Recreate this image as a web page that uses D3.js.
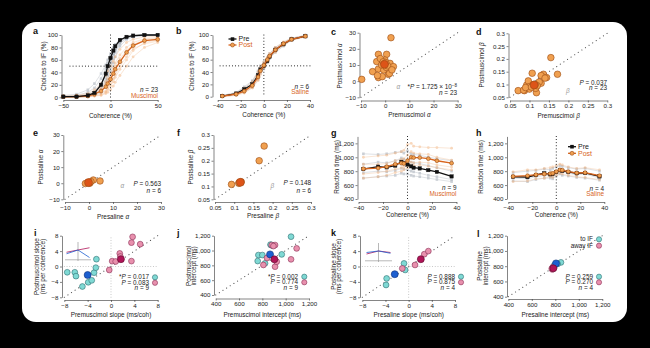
<!DOCTYPE html>
<html><head><meta charset="utf-8">
<script src="https://cdn.jsdelivr.net/npm/d3@7"></script>
<style>
html,body{margin:0;padding:0;background:#000;}
svg{display:block;font-family:"Liberation Sans",Arial,sans-serif;}
.axis path,.axis line{stroke:#333;stroke-width:0.6;fill:none;}
.axis text{font-size:6.2px;fill:#222;font-family:"Liberation Sans",Arial,sans-serif;}
.t{font-size:6.4px;fill:#222;}
.lab{font-size:9px;font-weight:bold;fill:#111;}
</style></head><body>
<script>
// ---------- Choice curves (a, b) ----------
const cohA = [-50,-36,-24,-17,-10,-5,-3,0,3,5,10,17,24,36,50];
const preA = [1,1,3,7,20,38,50,63,75,82,92,97,99,100,100];
const postA = [1,1,2,5,10,17,22,29,38,45,57,72,83,91,93];
const preA_sessions = [
  [2,3,8,15,30,45,55,66,75,80,90,96,98,100,100],
  [0,1,2,5,12,25,35,50,62,72,86,95,99,100,100],
  [3,5,12,22,38,52,60,70,80,85,93,97,99,100,100],
  [0,0,1,3,8,18,28,42,55,65,82,93,97,99,100],
  [1,2,5,10,22,35,45,58,70,76,88,95,98,99,100],
  [0,1,3,6,15,30,40,55,68,78,90,97,99,100,100]
];
const postA_sessions = [
  [0,0,1,2,4,8,12,18,25,32,45,60,75,88,92],
  [1,2,4,8,15,25,30,38,47,55,68,80,88,94,96],
  [0,1,2,3,6,10,15,22,30,36,50,65,78,86,90],
  [2,3,6,12,22,35,42,50,58,65,77,88,93,97,98],
  [0,0,1,2,3,6,8,12,18,24,35,50,65,80,88],
  [1,1,3,6,12,20,26,33,42,50,62,75,85,92,95]
];
const cohB = [-36,-24,-17,-10,-5,-3,0,3,5,10,17,24,36];
const preB = [1,5,12,20,35,44,50,58,65,76,85,93,98];
const postB = [1,4,9,18,32,42,51,60,66,76,86,93,98];
const preB_sessions = [
  [0,3,8,15,28,38,45,55,62,72,82,92,98],
  [2,7,16,26,42,50,56,63,70,80,88,95,99],
  [1,4,10,18,32,42,48,57,64,74,84,92,97],
  [0,6,14,24,40,48,52,60,67,78,87,94,100]
];
const postB_sessions = [
  [0,3,7,14,26,36,47,56,63,72,83,91,97],
  [2,6,14,24,40,48,56,64,70,80,89,95,99],
  [1,5,10,20,34,44,52,62,66,77,86,93,98],
  [0,2,6,15,28,40,48,58,64,74,85,92,98]
];

// ---------- Fit parameters (c–f) ----------
const preMusAlpha  = [2.4,-2.8,0.6,-3.5,-0.1,2.0,3.4,-5.2,-2.8,-0.6,1.3,1.8,-2.8,-1.2,-9.7,-1.5,0.5,-2.0,1.0,-0.8,2.8,0.2,-3.2];
const postMusAlpha = [26.9,16.6,16.6,12.1,13.1,11.0,9.0,5.9,7.5,6.9,4.2,4.8,2.2,2.8,1.1,10.0,8.5,14.0,9.5,12.0,7.0,11.5,3.5];
const musAlphaMean = [-0.3,10.4];
const preMusBeta  = [0.155,0.172,0.107,0.136,0.144,0.13,0.071,0.087,0.093,0.097,0.101,0.118,0.116,0.13,0.085,0.11,0.125,0.1,0.12,0.09,0.14,0.105,0.115];
const postMusBeta = [0.205,0.14,0.144,0.14,0.127,0.135,0.076,0.076,0.098,0.114,0.092,0.068,0.085,0.105,0.078,0.1,0.11,0.082,0.095,0.088,0.125,0.09,0.1];
const musBetaMean = [0.112,0.098];
const preSalAlpha  = [4.6,1.8,-0.3,-1.5,0.3,0.8];
const postSalAlpha = [1.4,2.0,0.4,-0.2,0.0,1.0];
const salAlphaMean = [-0.2,0.4];
const preSalBeta  = [0.178,0.165,0.093,0.113,0.118,0.112];
const postSalBeta = [0.257,0.2,0.108,0.115,0.118,0.112];
const salBetaMean = [0.116,0.116];

// ---------- Reaction times (g, h) ----------
const cohRT = [-36,-24,-17,-10,-5,-3,0,3,5,10,17,24,36];
const preG  = [830,865,855,880,935,915,895,870,850,840,815,790,725];
const postG = [835,845,865,900,915,910,950,1000,995,995,980,950,915];
const preG_sessions = [
  [1050,1040,1050,1070,1080,1060,1090,1050,1040,1030,1000,980,950],
  [780,800,790,810,840,830,820,800,790,770,740,720,680],
  [700,720,730,740,770,760,760,740,730,720,700,680,650],
  [900,930,920,950,990,970,960,930,920,910,880,850,800]
];
const postG_sessions = [
  [1000,1020,1030,1060,1080,1100,1180,1200,1160,1150,1140,1140,1130],
  [760,780,800,830,850,860,880,930,920,930,920,890,860],
  [900,900,910,950,970,980,1030,1080,1060,1050,1040,1000,960],
  [700,720,740,780,800,820,850,880,880,890,870,850,820]
];
const preH  = [720,715,745,770,755,760,790,815,805,790,770,775,725];
const postH = [725,735,750,760,765,770,795,820,815,795,775,780,735];
const preH_sessions = [
  [700,690,720,740,730,720,770,800,790,770,750,760,700],
  [780,800,810,830,820,840,860,880,870,850,830,840,800],
  [660,650,680,700,700,690,730,760,740,730,710,700,670]
];
const postH_sessions = [
  [710,720,730,740,740,750,780,810,800,780,760,770,720],
  [790,820,820,840,850,860,880,900,890,860,840,850,820],
  [650,660,690,700,720,710,740,770,760,740,720,710,680]
];

// ---------- RT regression (i–l) ----------
const musSlopeToPre   = [-7.5,-6.2,-6.0,-4.9,-3.9,-2.9,-2.6,-2.5,-3.3];
const musSlopeToPost  = [-1.5,-1.5,-2.5,-5.2,-4.1,-1.6,-0.3,1.9,-3.6];
const musSlopeToMean  = [-4.0,-2.2];
const musSlopeAwPre   = [3.7,3.5,5.0,1.5,0.2,-0.3,3.5,0.8,1.6];
const musSlopeAwPost  = [7.7,6.2,5.8,3.4,1.4,-0.9,1.4,1.3,2.6];
const musSlopeAwMean  = [1.7,1.9];
const musIntToPre  = [1046,874,889,766,800,966,760,823,870];
const musIntToPost = [1187,1074,1065,939,939,948,858,827,1080];
const musIntToMean = [866,948];
const musIntAwPre  = [1094,1046,909,880,809,909,923,840,895];
const musIntAwPost = [1029,881,1074,1074,805,782,849,900,1060];
const musIntAwMean = [903,881];
const salSlopeToPre  = [-3.8,-3.9,-0.8,-0.6];
const salSlopeToPost = [-3.1,-4.8,0.8,-0.9];
const salSlopeToMean = [-2.4,-2.0];
const salSlopeAwPre  = [1.1,2.7,3.4,-1.1];
const salSlopeAwPost = [0.4,3.2,4.0,-0.5];
const salSlopeAwMean = [2.1,1.9];
const salIntToPre  = [848,820,800,790];
const salIntToPost = [850,830,820,810];
const salIntToMean = [806,837];
const salIntAwPre  = [774,770,790,780];
const salIntAwPost = [758,770,780,790];
const salIntAwMean = [783,772];
// schematic inset: RT vs coherence around zero
const insetCoh = [-1,0,1];
const insetMusTo = [0.35,0.6,0.1];
const insetMusAw = [0.45,0.6,0.75];
const insetSalTo = [0.5,0.6,0.45];
const insetSalAw = [0.4,0.6,0.5];

// ---------- Colours ----------
const C = {
  black:"#111", orange:"#d8641c", orangeFill:"#f0a050", orangeStroke:"#9a4a12",
  meanOrange:"#dd5418", fadeGray:"#8c96a3", fadeOrange:"#f2b07a",
  cyan:"#7fd9d4", cyanStroke:"#2f6f72", blue:"#1d5fd0", blueStroke:"#0e2f78",
  pink:"#e890ad", pinkStroke:"#8a2f55", magenta:"#b01558", magentaStroke:"#5a0a2c"
};

const W = 650, H = 348;
const svg = d3.select("body").append("svg").attr("width", W).attr("height", H);
svg.append("rect").attr("width", W).attr("height", H).attr("fill", "#000");
svg.append("rect").attr("x", 22).attr("y", 22).attr("width", 605).attr("height", 300)
  .attr("rx", 14).attr("fill", "#fff");

const fmtPlain = d => String(d).replace("-", "\u2212");
const fmtComma = d3.format(",");

function panel(o) {
  const g = svg.append("g");
  const x = d3.scaleLinear().domain(o.xd).range(o.xr);
  const y = d3.scaleLinear().domain(o.yd).range(o.yr);
  g.append("g").attr("class", "axis").attr("transform", `translate(0,${o.ay})`)
    .call(d3.axisBottom(x).tickValues(o.xt).tickSize(2).tickSizeOuter(0).tickPadding(1.5).tickFormat(o.xf || fmtPlain));
  g.append("g").attr("class", "axis").attr("transform", `translate(${o.ax},0)`)
    .call(d3.axisLeft(y).tickValues(o.yt).tickSize(2).tickSizeOuter(0).tickPadding(1.5).tickFormat(o.yf || fmtPlain));
  g.append("text").attr("class", "lab").attr("x", o.lab[1]).attr("y", o.lab[2]).text(o.lab[0]);
  // x title
  const xt = g.append("text").attr("class", "t").attr("text-anchor", "middle")
    .attr("x", (o.xr[0] + o.xr[1]) / 2).attr("y", o.xtY);
  o.xtitle.forEach(p => xt.append("tspan").attr("font-style", p[1] ? "italic" : null).text(p[0]));
  // y title (one or two lines)
  o.ytitle.forEach((line, i) => {
    const t = g.append("text").attr("class", "t").attr("text-anchor", "middle")
      .attr("transform", `translate(${o.ytX[i]},${o.ytY}) rotate(-90)`).attr("dy", "0.35em");
    line.forEach(p => t.append("tspan").attr("font-style", p[1] ? "italic" : null).text(p[0]));
  });
  return { g, x, y };
}

function dotted(g, x1, y1, x2, y2, color, dash, w) {
  g.append("line").attr("x1", x1).attr("y1", y1).attr("x2", x2).attr("y2", y2)
    .attr("stroke", color).attr("stroke-width", w || 0.9).attr("stroke-dasharray", dash || "0.1,3.6")
    .attr("stroke-linecap", "round");
}

function textR(g, x, y, parts, color) {
  const t = g.append("text").attr("class", "t").attr("x", x).attr("y", y).attr("text-anchor", "end");
  if (color) t.style("fill", color);
  parts.forEach(p => {
    const s = t.append("tspan").text(p[0]);
    if (p[1] === "i") s.attr("font-style", "italic");
    if (p[1] === "sup") s.attr("font-size", "4.5px").attr("dy", "-2.2");
  });
  return t;
}

// Draws a curve with markers: kind "sq" (pre) or "ci" (post)
function curve(p, xs, ys, kind, color, fill, stroke, size, lw, opacity) {
  const line = d3.line().x((d, i) => p.x(xs[i])).y(d => p.y(d));
  const grp = p.g.append("g").attr("opacity", opacity == null ? 1 : opacity);
  grp.append("path").datum(ys).attr("d", line).attr("fill", "none").attr("stroke", color).attr("stroke-width", lw);
  if (kind === "sq") {
    grp.selectAll("rect").data(ys).join("rect")
      .attr("x", (d, i) => p.x(xs[i]) - size / 2).attr("y", d => p.y(d) - size / 2)
      .attr("width", size).attr("height", size).attr("fill", fill).attr("stroke", stroke).attr("stroke-width", 0.4);
  } else {
    grp.selectAll("circle").data(ys).join("circle")
      .attr("cx", (d, i) => p.x(xs[i])).attr("cy", d => p.y(d)).attr("r", size / 2)
      .attr("fill", fill).attr("stroke", stroke).attr("stroke-width", 0.6);
  }
}

function scatter(p, xs, ys, fill, stroke, r) {
  p.g.append("g").selectAll("circle").data(xs).join("circle")
    .attr("cx", d => p.x(d)).attr("cy", (d, i) => p.y(ys[i])).attr("r", r)
    .attr("fill", fill).attr("stroke", stroke).attr("stroke-width", 0.6);
}
function meanDot(p, m, fill, stroke, r) {
  p.g.append("circle").attr("cx", p.x(m[0])).attr("cy", p.y(m[1])).attr("r", r)
    .attr("fill", fill).attr("stroke", stroke).attr("stroke-width", 0.6);
}
function diag(p, lo, hi) {
  dotted(p.g, p.x(lo), p.y(lo), p.x(hi), p.y(hi), "#555", "0.1,4.2", 1.1);
}

// ================= a =================
const pa = panel({ xd:[-50,50], yd:[0,100], xr:[63.3,157.7], yr:[97.3,35], ax:61.5, ay:100,
  xt:[-50,0,50], yt:[0,20,40,60,80,100], lab:["a",33,34],
  xtitle:[["Coherence (%)"]], xtY:117.5, ytitle:[[["Choices to IF (%)"]]], ytX:[43.5], ytY:66 });
preA_sessions.forEach(s => curve(pa, cohA, s, "sq", C.fadeGray, C.fadeGray, "none", 2.6, 0.6, 0.45));
postA_sessions.forEach(s => curve(pa, cohA, s, "ci", C.fadeOrange, C.fadeOrange, "none", 2.8, 0.6, 0.5));
dotted(pa.g, pa.x(0), pa.y(100), pa.x(0), pa.y(0), "#111", "0.1,3", 1);
dotted(pa.g, pa.x(-43), pa.y(50), pa.x(50), pa.y(50), "#111", "0.1,3", 1);
curve(pa, cohA, postA, "ci", C.orange, C.orangeFill, C.orangeStroke, 3.8, 1.3);
curve(pa, cohA, preA, "sq", C.black, C.black, C.black, 3.4, 1.3);
textR(pa.g, 158, 92.3, [["n","i"],[" = 23"]]);
textR(pa.g, 158, 97.8, [["Muscimol"]], C.orange);

// ================= b =================
const pb = panel({ xd:[-40,40], yd:[0,100], xr:[217.7,310], yr:[96.7,35], ax:212.5, ay:100,
  xt:[-40,-20,0,20,40], yt:[0,20,40,60,80,100], lab:["b",176,34],
  xtitle:[["Coherence (%)"]], xtY:117, ytitle:[[["Choices to IF (%)"]]], ytX:[191.5], ytY:66 });
preB_sessions.forEach(s => curve(pb, cohB, s, "sq", C.fadeGray, C.fadeGray, "none", 2.6, 0.6, 0.45));
postB_sessions.forEach(s => curve(pb, cohB, s, "ci", C.fadeOrange, C.fadeOrange, "none", 2.8, 0.6, 0.5));
dotted(pb.g, pb.x(0), pb.y(100), pb.x(0), pb.y(0), "#111", "0.1,3", 1);
dotted(pb.g, pb.x(-38), pb.y(50), pb.x(40), pb.y(50), "#111", "0.1,3", 1);
curve(pb, cohB, preB, "sq", C.black, C.black, C.black, 3.4, 1.3);
curve(pb, cohB, postB, "ci", C.orange, C.orangeFill, C.orangeStroke, 3.8, 1.3);
// legend
pb.g.append("line").attr("x1", 228.5).attr("x2", 236.5).attr("y1", 39).attr("y2", 39).attr("stroke", C.black).attr("stroke-width", 1.3);
pb.g.append("rect").attr("x", 230.7).attr("y", 37.3).attr("width", 3.6).attr("height", 3.6).attr("fill", C.black);
pb.g.append("line").attr("x1", 228.5).attr("x2", 236.5).attr("y1", 45).attr("y2", 45).attr("stroke", C.orange).attr("stroke-width", 1.3);
pb.g.append("circle").attr("cx", 232.5).attr("cy", 45).attr("r", 2).attr("fill", C.orangeFill).attr("stroke", C.orangeStroke).attr("stroke-width", 0.6);
pb.g.append("text").attr("class", "t").attr("x", 238.5).attr("y", 41.2).style("font-size", "7px").text("Pre");
pb.g.append("text").attr("class", "t").attr("x", 238.5).attr("y", 47.3).style("font-size", "7px").style("fill", C.orange).text("Post");
textR(pb.g, 309, 88.5, [["n","i"],[" = 6"]]);
textR(pb.g, 309, 94, [["Saline"]], C.orange);

// ================= c =================
const pc = panel({ xd:[-10,30], yd:[-10,30], xr:[361,457.7], yr:[97.3,32.7], ax:359.5, ay:100.5,
  xt:[-10,0,10,20,30], yt:[-10,0,10,20,30], lab:["c",331,35],
  xtitle:[["Premuscimol "],["\u03b1",1]], xtY:117, ytitle:[[["Postmuscimol "],["\u03b1",1]]], ytX:[340], ytY:66 });
diag(pc, -10, 30);
scatter(pc, preMusAlpha, postMusAlpha, C.orangeFill, C.orangeStroke, 3.3);
meanDot(pc, musAlphaMean, C.meanOrange, C.orangeStroke, 4);
pc.g.append("text").attr("class", "t").attr("x", 396.5).attr("y", 89).style("fill", "#999").attr("font-style", "italic").text("\u03b1");
textR(pc.g, 457, 89, [["*"],["P","i"],[" = 1.725 \u00d7 10"],["\u22128","sup"]]);
textR(pc.g, 457, 94.5, [["n","i"],[" = 23"]]);

// ================= d =================
const pd = panel({ xd:[0.05,0.3], yd:[0.05,0.3], xr:[510,607.3], yr:[97.3,33.3], ax:508.5, ay:100.5,
  xt:[0.05,0.1,0.15,0.2,0.25,0.3], yt:[0.05,0.1,0.15,0.2,0.25,0.3], lab:["d",476,35],
  xtitle:[["Premuscimol "],["\u03b2",1]], xtY:117.5, ytitle:[[["Postmuscimol "],["\u03b2",1]]], ytX:[482], ytY:65 });
diag(pd, 0.05, 0.3);
scatter(pd, preMusBeta, postMusBeta, C.orangeFill, C.orangeStroke, 3.3);
meanDot(pd, musBetaMean, C.meanOrange, C.orangeStroke, 4);
pd.g.append("text").attr("class", "t").attr("x", 566).attr("y", 92.5).style("fill", "#999").attr("font-style", "italic").text("\u03b2");
textR(pd.g, 607, 84.5, [["P","i"],[" = 0.037"]]);
textR(pd.g, 607, 90, [["n","i"],[" = 23"]]);

// ================= e =================
const pe = panel({ xd:[-10,30], yd:[-10,30], xr:[65,161], yr:[199.3,135], ax:63.3, ay:202,
  xt:[-10,0,10,20,30], yt:[-10,0,10,20,30], lab:["e",33,136],
  xtitle:[["Presaline "],["\u03b1",1]], xtY:219, ytitle:[[["Postsaline "],["\u03b1",1]]], ytX:[41], ytY:167 });
diag(pe, -10, 30);
scatter(pe, preSalAlpha, postSalAlpha, C.orangeFill, C.orangeStroke, 3.3);
meanDot(pe, salAlphaMean, C.meanOrange, C.orangeStroke, 4);
pe.g.append("text").attr("class", "t").attr("x", 120.5).attr("y", 187.5).style("fill", "#999").attr("font-style", "italic").text("\u03b1");
textR(pe.g, 161, 185.5, [["P","i"],[" = 0.563"]]);
textR(pe.g, 161, 193, [["n","i"],[" = 6"]]);

// ================= f =================
const pf = panel({ xd:[0.05,0.3], yd:[0.05,0.3], xr:[215,311], yr:[199.3,135], ax:213.5, ay:202,
  xt:[0.05,0.1,0.15,0.2,0.25,0.3], yt:[0.05,0.1,0.15,0.2,0.25,0.3], lab:["f",177,136],
  xtitle:[["Presaline "],["\u03b2",1]], xtY:217.5, ytitle:[[["Postsaline "],["\u03b2",1]]], ytX:[191], ytY:167 });
diag(pf, 0.05, 0.3);
scatter(pf, preSalBeta, postSalBeta, C.orangeFill, C.orangeStroke, 3.3);
meanDot(pf, salBetaMean, C.meanOrange, C.orangeStroke, 4);
pf.g.append("text").attr("class", "t").attr("x", 270.5).attr("y", 187.5).style("fill", "#999").attr("font-style", "italic").text("\u03b2");
textR(pf.g, 311, 185, [["P","i"],[" = 0.148"]]);
textR(pf.g, 311, 192.5, [["n","i"],[" = 6"]]);

// ================= g =================
const pg = panel({ xd:[-40,40], yd:[400,1300], xr:[358.5,456.5], yr:[199,136.4], ax:357.5, ay:202,
  xt:[-40,-20,0,20,40], yt:[400,600,800,1000,1200], yf:fmtComma, lab:["g",331,136],
  xtitle:[["Coherence (%)"]], xtY:216.5, ytitle:[[["Reaction time (ms)"]]], ytX:[336.5], ytY:167 });
preG_sessions.forEach(s => curve(pg, cohRT, s, "sq", C.fadeGray, C.fadeGray, "none", 2.6, 0.6, 0.45));
postG_sessions.forEach(s => curve(pg, cohRT, s, "ci", C.fadeOrange, C.fadeOrange, "none", 2.8, 0.6, 0.5));
dotted(pg.g, pg.x(0), pg.y(1300), pg.x(0), pg.y(400), "#111", "0.1,3", 1);
curve(pg, cohRT, preG, "sq", C.black, C.black, C.black, 3.4, 1.3);
curve(pg, cohRT, postG, "ci", C.orange, C.orangeFill, C.orangeStroke, 3.8, 1.3);
textR(pg.g, 456.5, 189.5, [["n","i"],[" = 9"]]);
textR(pg.g, 456.5, 195.5, [["Muscimol"]], C.orange);

// ================= h =================
const ph = panel({ xd:[-40,40], yd:[400,1300], xr:[508.3,604.3], yr:[199,136.4], ax:507, ay:202,
  xt:[-40,-20,0,20,40], yt:[400,600,800,1000,1200], yf:fmtComma, lab:["h",476,136],
  xtitle:[["Coherence (%)"]], xtY:216.5, ytitle:[[["Reaction time (ms)"]]], ytX:[481], ytY:167 });
preH_sessions.forEach(s => curve(ph, cohRT, s, "sq", C.fadeGray, C.fadeGray, "none", 2.6, 0.6, 0.45));
postH_sessions.forEach(s => curve(ph, cohRT, s, "ci", C.fadeOrange, C.fadeOrange, "none", 2.8, 0.6, 0.5));
dotted(ph.g, ph.x(0), ph.y(1300), ph.x(0), ph.y(400), "#111", "0.1,3", 1);
curve(ph, cohRT, preH, "sq", C.black, C.black, C.black, 3.4, 1.3);
curve(ph, cohRT, postH, "ci", C.orange, C.orangeFill, C.orangeStroke, 3.8, 1.3);
ph.g.append("line").attr("x1", 568).attr("x2", 576).attr("y1", 146.7).attr("y2", 146.7).attr("stroke", C.black).attr("stroke-width", 1.3);
ph.g.append("rect").attr("x", 570.2).attr("y", 144.9).attr("width", 3.6).attr("height", 3.6).attr("fill", C.black);
ph.g.append("line").attr("x1", 568).attr("x2", 576).attr("y1", 153.3).attr("y2", 153.3).attr("stroke", C.orange).attr("stroke-width", 1.3);
ph.g.append("circle").attr("cx", 572).attr("cy", 153.3).attr("r", 2).attr("fill", C.orangeFill).attr("stroke", C.orangeStroke).attr("stroke-width", 0.6);
ph.g.append("text").attr("class", "t").attr("x", 578).attr("y", 149).style("font-size", "7px").text("Pre");
ph.g.append("text").attr("class", "t").attr("x", 578).attr("y", 155.6).style("font-size", "7px").style("fill", C.orange).text("Post");
textR(ph.g, 604, 190.5, [["n","i"],[" = 4"]]);
textR(ph.g, 604, 196, [["Saline"]], C.orange);

// ================= i–l helpers =================
function legendRow(g, xText, xDot, y, parts, fill, stroke) {
  textR(g, xText, y, parts);
  g.append("circle").attr("cx", xDot).attr("cy", y - 2).attr("r", 2.6).attr("fill", fill).attr("stroke", stroke).attr("stroke-width", 0.6);
}
function zeroLines(p, lo, hi) {
  dotted(p.g, p.x(0), p.y(lo), p.x(0), p.y(hi), "#bbb", "0.1,2.6", 0.9);
  dotted(p.g, p.x(lo), p.y(0), p.x(hi), p.y(0), "#bbb", "0.1,2.6", 0.9);
}
function inset(g, x0, x1, yTop, yBot, toVals, awVals) {
  const ix = d3.scaleLinear().domain([-1, 1]).range([x0 + 1.5, x1 - 1.5]);
  const iy = d3.scaleLinear().domain([0, 1]).range([yBot - 2, yTop + 2]);
  g.append("line").attr("x1", ix(0)).attr("x2", ix(0)).attr("y1", yTop).attr("y2", yBot).attr("stroke", "#999").attr("stroke-width", 0.7);
  g.append("line").attr("x1", x0).attr("x2", x1).attr("y1", yBot - 1.2).attr("y2", yBot - 1.2).attr("stroke", "#999").attr("stroke-width", 0.7);
  const ln = d3.line().x((d, i) => ix(insetCoh[i])).y(d => iy(d));
  g.append("path").datum(awVals).attr("d", ln).attr("fill", "none").attr("stroke", C.magenta).attr("stroke-width", 0.8);
  g.append("path").datum(toVals).attr("d", ln).attr("fill", "none").attr("stroke", C.blue).attr("stroke-width", 0.8);
}

// ================= i =================
const pi = panel({ xd:[-8,8], yd:[-8,8], xr:[64.3,157.7], yr:[297.3,235.7], ax:62, ay:300,
  xt:[-8,-4,0,4,8], yt:[-8,-4,0,4,8], lab:["i",34,236],
  xtitle:[["Premuscimol slope (ms/coh)"]], xtY:316.5,
  ytitle:[[["Postmuscimol slope"]],[["(ms per coherence)"]]], ytX:[36.7,42.5], ytY:266.5 });
zeroLines(pi, -8, 8);
diag(pi, -8, 8);
inset(pi.g, 65, 91, 242, 261, insetMusTo, insetMusAw);
scatter(pi, musSlopeToPre, musSlopeToPost, C.cyan, C.cyanStroke, 2.9);
scatter(pi, musSlopeAwPre, musSlopeAwPost, C.pink, C.pinkStroke, 2.9);
meanDot(pi, musSlopeToMean, C.blue, C.blueStroke, 3.5);
meanDot(pi, musSlopeAwMean, C.magenta, C.magentaStroke, 3.5);
legendRow(pi.g, 149, 155, 279.3, [["*"],["P","i"],[" = 0.017"]], C.cyan, C.cyanStroke);
legendRow(pi.g, 149, 155, 284.8, [["P","i"],[" = 0.083"]], C.pink, C.pinkStroke);
textR(pi.g, 149, 290.4, [["n","i"],[" = 9"]]);

// ================= j =================
const pj = panel({ xd:[400,1200], yd:[400,1200], xr:[215.7,309], yr:[295,235.7], ax:214, ay:298.5,
  xt:[400,600,800,1000,1200], yt:[400,600,800,1000,1200], xf:fmtComma, yf:fmtComma, lab:["j",177,236],
  xtitle:[["Premuscimol intercept (ms)"]], xtY:316.5,
  ytitle:[[["Postmuscimol"]],[["intercept (ms)"]]], ytX:[188.3,193.8], ytY:266 });
diag(pj, 400, 1200);
scatter(pj, musIntToPre, musIntToPost, C.cyan, C.cyanStroke, 2.9);
scatter(pj, musIntAwPre, musIntAwPost, C.pink, C.pinkStroke, 2.9);
meanDot(pj, musIntToMean, C.blue, C.blueStroke, 3.5);
meanDot(pj, musIntAwMean, C.magenta, C.magentaStroke, 3.5);
legendRow(pj.g, 298, 304.3, 278.7, [["*"],["P","i"],[" = 0.002"]], C.cyan, C.cyanStroke);
legendRow(pj.g, 298, 304.3, 284.3, [["P","i"],[" = 0.774"]], C.pink, C.pinkStroke);
textR(pj.g, 298, 289.8, [["n","i"],[" = 9"]]);

// ================= k =================
const pk = panel({ xd:[-8,8], yd:[-8,8], xr:[362.3,455], yr:[297.3,235.7], ax:360, ay:300,
  xt:[-8,-4,0,4,8], yt:[-8,-4,0,4,8], lab:["k",331,236],
  xtitle:[["Presaline slope (ms/coh)"]], xtY:316.5,
  ytitle:[[["Postsaline slope"]],[["(ms per coherence)"]]], ytX:[333.5,339.2], ytY:266.5 });
zeroLines(pk, -8, 8);
diag(pk, -8, 8);
inset(pk.g, 365, 392, 243, 262, insetSalTo, insetSalAw);
scatter(pk, salSlopeToPre, salSlopeToPost, C.cyan, C.cyanStroke, 2.9);
scatter(pk, salSlopeAwPre, salSlopeAwPost, C.pink, C.pinkStroke, 2.9);
meanDot(pk, salSlopeToMean, C.blue, C.blueStroke, 3.5);
meanDot(pk, salSlopeAwMean, C.magenta, C.magentaStroke, 3.5);
legendRow(pk.g, 455, 461, 278.7, [["P","i"],[" = 0.888"]], C.cyan, C.cyanStroke);
legendRow(pk.g, 455, 461, 284.3, [["P","i"],[" = 0.875"]], C.pink, C.pinkStroke);
textR(pk.g, 455, 290.4, [["n","i"],[" = 4"]]);

// ================= l =================
const pl = panel({ xd:[400,1200], yd:[400,1200], xr:[508.3,602.3], yr:[296.7,235.7], ax:507, ay:299,
  xt:[400,600,800,1000,1200], yt:[400,600,800,1000,1200], xf:fmtComma, yf:fmtComma, lab:["l",477,237],
  xtitle:[["Presaline intercept (ms)"]], xtY:316.5,
  ytitle:[[["Postsaline"]],[["intercept (ms)"]]], ytX:[480,485.5], ytY:266 });
diag(pl, 400, 1200);
scatter(pl, salIntToPre, salIntToPost, C.cyan, C.cyanStroke, 2.9);
scatter(pl, salIntAwPre, salIntAwPost, C.pink, C.pinkStroke, 2.9);
meanDot(pl, salIntToMean, C.blue, C.blueStroke, 3.5);
meanDot(pl, salIntAwMean, C.magenta, C.magentaStroke, 3.5);
legendRow(pl.g, 593, 599, 241.3, [["to IF"]], C.cyan, C.cyanStroke);
legendRow(pl.g, 593, 599, 247.7, [["away IF"]], C.pink, C.pinkStroke);
legendRow(pl.g, 593, 599, 278.7, [["P","i"],[" = 0.259"]], C.cyan, C.cyanStroke);
legendRow(pl.g, 593, 599, 284.3, [["P","i"],[" = 0.270"]], C.pink, C.pinkStroke);
textR(pl.g, 593, 290.4, [["n","i"],[" = 4"]]);
</script>
</body></html>
